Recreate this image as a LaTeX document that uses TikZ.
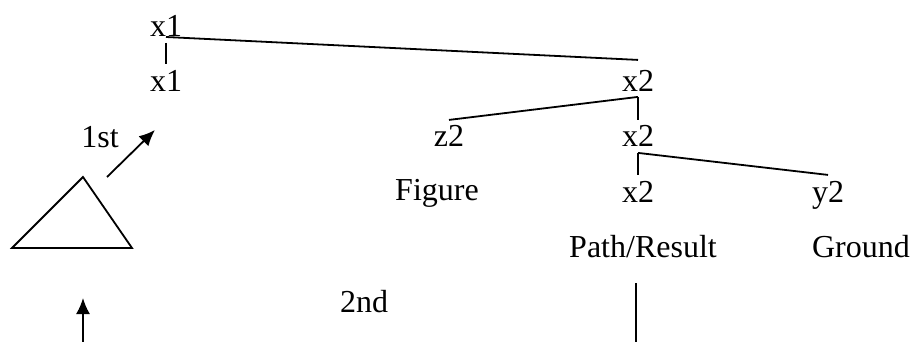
\documentclass[tikz,border=0pt]{standalone}
\usepackage{fontspec}
\setmainfont{Liberation Serif}
\usetikzlibrary{arrows.meta}
\begin{document}
\begin{tikzpicture}[x=0.5pt,y=-0.5pt,>={Latex[length=8pt,width=7pt]},line width=0.9pt,
    lbl/.style={font=\fontsize{16}{19}\selectfont,inner sep=2.5pt,anchor=base}]
    \useasboundingbox (0,0) rectangle (910,342);

    % root x1 and its projection
    \node[lbl] (x1top) at (166,37) {x1};
    \node[lbl] (x1bot) at (166,91) {x1};

    % x2 spine
    \node[lbl] (x2a) at (638,91) {x2};
    \node[lbl] (x2b) at (638,147) {x2};
    \node[lbl] (x2c) at (638,202) {x2};

    % side branches
    \node[lbl] (z2) at (449,147) {z2};
    \node[lbl] (y2) at (828,202) {y2};

    % role labels
    \node[lbl] (fig) at (437,200) {Figure};
    \node[lbl] (path) at (643,257) {Path/Result};
    \node[lbl] (ground) at (861,257) {Ground};

    % order labels
    \node[lbl] (first) at (100,148) {1st};
    \node[lbl] (second) at (364,312) {2nd};

    % tree branches
    \draw (x1top.base) -- ([yshift=2pt]x2a.north);
    \draw (x1top.south) -- (x1bot.north);
    \draw (x2a.south) -- (z2.north);
    \draw (x2a.south) -- (x2b.north);
    \draw (x2b.south) -- (y2.north);
    \draw (x2b.south) -- (x2c.north);

    % line below Path/Result
    \coordinate (ptop) at (636,283);
    \coordinate (pbot) at (636,342);
    \draw (ptop) -- (pbot);

    % triangle
    \coordinate (apex) at (83,177);
    \coordinate (bl) at (12,248);
    \coordinate (br) at (132,248);
    \draw (apex) -- (bl) -- (br) -- cycle;

    % 1st arrow
    \coordinate (a1s) at (107,177);
    \coordinate (a1e) at (155,130);
    \draw[->] (a1s) -- (a1e);

    % upward arrow
    \coordinate (a2s) at (83,342);
    \coordinate (a2e) at (83,298);
    \draw[->] (a2s) -- (a2e);
\end{tikzpicture}
\end{document}
